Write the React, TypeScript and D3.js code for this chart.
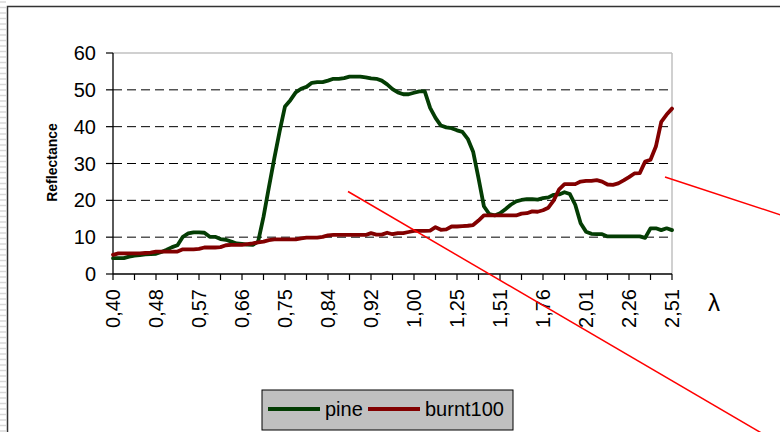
import React from "react";
import * as d3 from "d3";

// ---- data ----
const seriesNames = ["pine", "burnt100"];
const seriesColors = ["#043d04", "#820000"];

const tickLabels = ["0,40", "0,48", "0,57", "0,66", "0,75", "0,84", "0,92", "1,00", "1,25", "1,51", "1,76", "2,01", "2,26", "2,51"];

const pine = [
  4.3, 4.3, 4.3, 4.7, 5.0, 5.1, 5.3, 5.4, 5.5, 6.0,
  6.6, 7.3, 7.8, 10.1, 11.0, 11.3, 11.3, 11.2, 10.1, 10.1,
  9.5, 9.3, 8.8, 8.3, 8.2, 8.0, 7.9, 8.8, 15.5, 23.5,
  31.3, 38.7, 45.5, 47.2, 49.3, 50.3, 50.8, 51.9, 52.1, 52.1,
  52.5, 53.0, 53.0, 53.2, 53.6, 53.6, 53.6, 53.4, 53.1, 53.0,
  52.5, 51.5, 50.2, 49.3, 48.8, 48.8, 49.2, 49.6, 49.6, 45.1,
  42.4, 40.3, 39.8, 39.6, 39.0, 38.6, 36.7, 33.2, 26.0, 18.4,
  16.3, 15.9, 16.5, 17.6, 18.8, 19.7, 20.1, 20.3, 20.3, 20.2,
  20.6, 20.8, 21.5, 21.6, 22.2, 21.7, 18.8, 13.8, 11.5, 10.9,
  10.8, 10.8, 10.2, 10.2, 10.2, 10.2, 10.2, 10.2, 10.2, 9.8,
  12.4, 12.4, 11.9, 12.4, 11.9,
];

const burnt100 = [
  5.2, 5.6, 5.6, 5.6, 5.6, 5.6, 5.7, 5.8, 6.1, 6.1,
  6.1, 6.1, 6.1, 6.7, 6.7, 6.7, 6.8, 7.2, 7.2, 7.2,
  7.3, 7.8, 7.9, 7.9, 7.9, 8.1, 8.3, 8.6, 8.8, 9.2,
  9.4, 9.4, 9.4, 9.4, 9.4, 9.7, 9.9, 9.9, 9.9, 10.1,
  10.5, 10.6, 10.6, 10.6, 10.6, 10.6, 10.6, 10.6, 11.1, 10.7,
  10.7, 11.2, 10.8, 11.1, 11.1, 11.4, 11.7, 11.7, 11.7, 11.8,
  12.7, 12.0, 12.1, 12.9, 12.9, 13.0, 13.1, 13.3, 14.5, 15.9,
  15.9, 15.9, 15.9, 15.9, 15.9, 15.9, 16.4, 16.5, 17.0, 16.9,
  17.3, 18.0, 20.0, 23.0, 24.4, 24.4, 24.4, 25.1, 25.3, 25.3,
  25.5, 25.1, 24.3, 24.2, 24.6, 25.4, 26.3, 27.3, 27.4, 30.5,
  31.0, 34.6, 41.3, 43.3, 44.9,
];

const yTicks = [0, 10, 20, 30, 40, 50, 60];
const yGrid = [10, 20, 30, 40, 50];

// ---- layout ----
const W = 780;
const H = 432;
const left = 113;
const right = 672;
const top = 53;
const bottom = 274;
const labelEvery = 8;
const tickEvery = 4;

// free-drawn annotation lines (drawing objects on top of the chart)
const annotations = [
  { x1: 348, y1: 191.5, x2: 770, y2: 438 },
  { x1: 665, y1: 177, x2: 790, y2: 218 },
];

export default function App() {
  const n = pine.length;
  const x = d3.scaleLinear().domain([0, n - 1]).range([left, right]);
  const y = d3.scaleLinear().domain([0, 60]).range([bottom, top]);
  const line = d3
    .line<number>()
    .x((_, i) => x(i))
    .y((d) => y(d))
    .curve(d3.curveLinear);

  const series = [pine, burnt100];
  const tickIdx = d3.range(0, n, tickEvery);
  const labelIdx = d3.range(0, n, labelEvery);
  const stripes = d3.range(2, H, 5.5);

  const font = "Liberation Sans, Arial, sans-serif";

  return (
    <svg
      width={W}
      height={H}
      style={{ position: "absolute", left: 0, top: 0, display: "block", background: "#fff" }}
      fontFamily={font}
    >
      {/* spreadsheet cell stripes on the far left */}
      <g>
        {stripes.map((s, i) => (
          <line key={i} x1={0} x2={6} y1={s} y2={s} stroke="#d8d8d8" strokeWidth={1.5} />
        ))}
      </g>
      {/* chart area border */}
      <rect x={7.5} y={6.5} width={W + 10} height={H + 10} fill="#fff" stroke="#333" strokeWidth={1.5} />

      {/* plot area border (gray) */}
      <line x1={left} x2={right} y1={top} y2={top} stroke="#c0c0c0" strokeWidth={1.5} />
      <line x1={right} x2={right} y1={top} y2={bottom} stroke="#c0c0c0" strokeWidth={1.5} />

      {/* dashed gridlines */}
      {yGrid.map((v) => (
        <line key={v} x1={left} x2={right} y1={y(v)} y2={y(v)} stroke="#000" strokeWidth={1} strokeDasharray="9,5" />
      ))}

      {/* axes */}
      <line x1={left} x2={left} y1={top} y2={bottom} stroke="#000" strokeWidth={1.3} />
      <line x1={left} x2={right} y1={bottom} y2={bottom} stroke="#000" strokeWidth={1.3} />
      {yTicks.map((v) => (
        <g key={v}>
          <line x1={left - 7} x2={left} y1={y(v)} y2={y(v)} stroke="#000" strokeWidth={1.2} />
          <text x={96} y={y(v)} textAnchor="end" dominantBaseline="central" fontSize={20} fill="#000">
            {v}
          </text>
        </g>
      ))}
      {tickIdx.map((i) => (
        <line key={i} x1={x(i)} x2={x(i)} y1={bottom} y2={bottom + 6} stroke="#000" strokeWidth={1.2} />
      ))}
      {labelIdx.map((i, k) => (
        <text
          key={i}
          transform={`translate(${x(i)},${bottom + 15}) rotate(-90)`}
          textAnchor="end"
          dominantBaseline="central"
          fontSize={20}
          fill="#000"
        >
          {tickLabels[k]}
        </text>
      ))}

      {/* axis titles */}
      <text
        transform={`translate(52,${(top + bottom) / 2 - 1}) rotate(-90)`}
        textAnchor="middle"
        dominantBaseline="central"
        fontSize={14}
        fontWeight="bold"
        fill="#000"
      >
        Reflectance
      </text>
      <text x={714} y={302} textAnchor="middle" dominantBaseline="central" fontSize={24} fill="#000">
        λ
      </text>

      {/* series */}
      {series.map((s, k) => (
        <path
          key={seriesNames[k]}
          d={line(s) || ""}
          fill="none"
          stroke={seriesColors[k]}
          strokeWidth={3.8}
          strokeLinejoin="round"
          strokeLinecap="round"
        />
      ))}

      {/* annotations */}
      {annotations.map((a, i) => (
        <line key={i} x1={a.x1} y1={a.y1} x2={a.x2} y2={a.y2} stroke="#ff0000" strokeWidth={1.5} />
      ))}

      {/* legend */}
      <g>
        <rect x={262} y={390} width={251} height={40} fill="#c0c0c0" stroke="#000" strokeWidth={1} />
        {seriesNames.map((name, k) => {
          const ox = k === 0 ? 268 : 368;
          return (
            <g key={name}>
              <line x1={ox} x2={ox + 52} y1={409} y2={409} stroke={seriesColors[k]} strokeWidth={3.8} />
              <text x={ox + 57} y={409} dominantBaseline="central" fontSize={20} fill="#000">
                {name}
              </text>
            </g>
          );
        })}
      </g>
    </svg>
  );
}
